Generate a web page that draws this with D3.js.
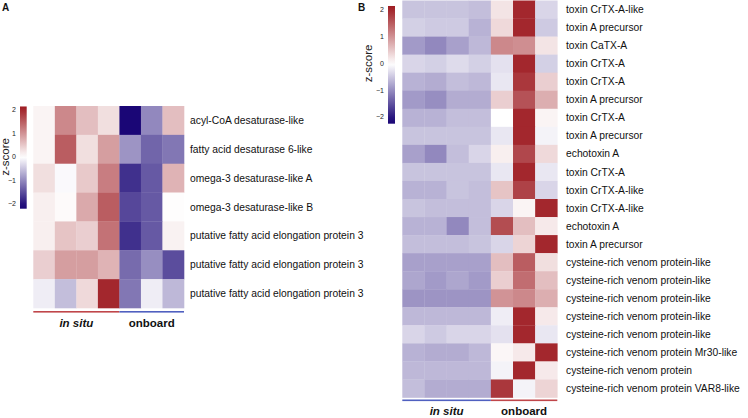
<!DOCTYPE html>
<html><head><meta charset="utf-8">
<script src="https://cdn.jsdelivr.net/npm/d3@7"></script>
<style>body{margin:0;background:#fff}svg{display:block;font-family:"Liberation Sans",Arial,sans-serif}</style>
</head><body><svg id="c" width="748" height="418"></svg>
<script>
// ---------- DATA ----------
const colsA = ["s1","s2","s3","s4","o1","o2","o3"];
const groupsA = [{name:"in situ", cols:["s1","s2","s3","s4"], italic:true, color:"#c0464a"},
                 {name:"onboard", cols:["o1","o2","o3"], italic:false, color:"#5060c0"}];
const rowsA = ["acyl-CoA desaturase-like","fatty acid desaturase 6-like","omega-3 desaturase-like A",
  "omega-3 desaturase-like B","putative fatty acid elongation protein 3",
  "putative fatty acid elongation protein 3","putative fatty acid elongation protein 3"];
const valuesA = [
  [0.1, 1.1, 0.6, 0.3, -2.1, -1.0, 0.6],
  [0.1, 1.5, 0.3, 0.9, -0.9, -1.3, -1.15],
  [0.3, -0.05, 0.5, 1.2, -1.75, -1.4, 0.7],
  [0.15, 0.05, 0.8, 1.5, -1.55, -1.4, 0.02],
  [0.15, 0.55, 0.45, 1.3, -1.75, -1.4, 0.12],
  [0.45, 0.9, 0.9, 0.7, -1.25, -0.95, -1.5],
  [-0.15, -0.55, 0.35, 2.0, -1.15, -0.15, -0.6]
];
const colsB = ["s1","s2","s3","s4","o1","o2","o3"];
const groupsB = [{name:"in situ", cols:["s1","s2","s3","s4"], italic:true, color:"#5060c0"},
                 {name:"onboard", cols:["o1","o2","o3"], italic:false, color:"#c0464a"}];
const rowsB = ["toxin CrTX-A-like","toxin A precursor","toxin CaTX-A","toxin CrTX-A","toxin CrTX-A",
  "toxin A precursor","toxin CrTX-A","toxin A precursor","echotoxin A","toxin CrTX-A",
  "toxin CrTX-A-like","toxin CrTX-A-like","echotoxin A","toxin A precursor",
  "cysteine-rich venom protein-like","cysteine-rich venom protein-like","cysteine-rich venom protein-like",
  "cysteine-rich venom protein-like","cysteine-rich venom protein-like","cysteine-rich venom protein Mr30-like",
  "cysteine-rich venom protein","cysteine-rich venom protein VAR8-like"];
const valuesB = [
  [-0.5,-0.5,-0.5,-0.55, 0.25, 2.0,-0.35],
  [-0.4,-0.45,-0.45,-0.65, 0.35, 2.0,-0.45],
  [-0.85,-1.0,-0.8,-0.6, 1.1, 1.05, 0.25],
  [-0.35,-0.4,-0.3,-0.4,-0.25, 2.0,-0.4],
  [-0.65,-0.7,-0.55,-0.6,-0.2, 1.85, 0.45],
  [-0.85,-0.95,-0.7,-0.7, 0.45, 1.6, 0.75],
  [-0.65,-0.65,-0.55,-0.55, 0.0, 2.0, 0.1],
  [-0.5,-0.5,-0.5,-0.5,-0.2, 2.0,-0.1],
  [-0.8,-1.0,-0.55,-0.35, 0.15, 1.7, 0.35],
  [-0.5,-0.5,-0.5,-0.5,-0.2, 2.0,-0.2],
  [-0.65,-0.65,-0.5,-0.55, 0.55, 1.75,-0.35],
  [-0.5,-0.55,-0.55,-0.55,-0.35, 0.1, 2.0],
  [-0.65,-0.65,-1.0,-0.55, 1.65, 0.6, 0.2],
  [-0.55,-0.55,-0.55,-0.5,-0.35, 0.4, 2.0],
  [-0.8,-0.8,-0.8,-0.8, 0.6, 1.5, 0.3],
  [-0.75,-0.85,-0.75,-0.85, 0.45, 1.35, 0.6],
  [-0.9,-0.9,-0.9,-0.9, 1.0, 1.1, 0.75],
  [-0.6,-0.6,-0.6,-0.6,-0.15, 2.0, 0.2],
  [-0.35,-0.45,-0.35,-0.35,-0.25, 2.0,-0.2],
  [-0.65,-0.7,-0.7,-0.6, 0.08, 0.2, 2.0],
  [-0.6,-0.6,-0.6,-0.6,-0.1, 2.0, 0.2],
  [-0.55,-0.7,-0.7,-0.7, 1.85,-0.1, 0.4]
];
const legendTicks = [2, 1, 0, -1, -2];

// ---------- DRAW ----------
const svg = d3.select("#c");
const color = d3.scaleLinear().domain([-2.1, 0, 2.1]).range(["#1a0676", "#ffffff", "#9e1c22"])
  .interpolate(d3.interpolateRgb).clamp(true);

const defs = svg.append("defs");
const grad = defs.append("linearGradient").attr("id","zg").attr("x1",0).attr("y1",1).attr("x2",0).attr("y2",0);
d3.range(0, 1.0001, 0.05).forEach(t => grad.append("stop").attr("offset", t).attr("stop-color", color(-2.2 + t*4.35)));

function panel(opt) {
  const {cols, rows, values, groups, x0, x1, y0, y1, labelX, lineY, groupY, leg, letter} = opt;
  const g = svg.append("g");
  const x = d3.scaleBand().domain(cols).range([x0, x1]);
  const y = d3.scaleBand().domain(d3.range(rows.length)).range([y0, y1]);
  values.forEach((row, i) => {
    g.selectAll(null).data(row).enter().append("rect")
      .attr("x", (d, j) => x(cols[j])).attr("y", y(i))
      .attr("width", x.bandwidth() + 0.3).attr("height", y.bandwidth() + 0.3)
      .attr("fill", d => color(d));
  });
  g.selectAll(null).data(rows).enter().append("text")
    .attr("x", labelX).attr("y", (d, i) => y(i) + y.bandwidth()/2)
    .attr("dy", "0.35em").attr("font-size", 10.3).attr("fill", "#111").text(d => d);
  groups.forEach(gr => {
    const a = x(gr.cols[0]), b = x(gr.cols[gr.cols.length-1]) + x.bandwidth();
    g.append("rect").attr("x", a).attr("y", lineY).attr("width", b - a).attr("height", 1.6).attr("fill", gr.color);
    g.append("text").attr("x", (a + b)/2).attr("y", groupY).attr("text-anchor", "middle")
      .attr("font-size", 11.5).attr("font-weight", "bold").attr("font-style", gr.italic ? "italic" : "normal")
      .attr("fill", "#111").text(gr.name);
  });
  // legend
  const ly = d3.scaleLinear().domain([2, -2]).range([leg.t2, leg.tm2]);
  g.append("rect").attr("x", leg.x).attr("y", ly(leg.top)).attr("width", leg.w)
    .attr("height", ly(leg.bot) - ly(leg.top)).attr("fill", "url(#zg)");
  g.selectAll(null).data(legendTicks).enter().append("text")
    .attr("x", leg.x - 4).attr("y", d => ly(d)).attr("dy", "0.35em").attr("text-anchor", "end")
    .attr("font-size", 7).attr("fill", "#222").text(d => d < 0 ? "\u2212" + Math.abs(d) : d);
  g.append("text").attr("transform", `translate(${leg.zx},${ly(0)}) rotate(-90)`)
    .attr("text-anchor", "middle").attr("font-size", 11.5).attr("fill", "#222").text("z-score");
  svg.append("text").attr("x", letter.x).attr("y", letter.y).attr("font-size", 10)
    .attr("font-weight", "bold").attr("fill", "#111").text(letter.t);
}

panel({cols: colsA, rows: rowsA, values: valuesA, groups: groupsA,
  x0: 33.3, x1: 184, y0: 106, y1: 308, labelX: 190, lineY: 311, groupY: 327,
  leg: {x: 20, w: 6.7, t2: 110, tm2: 204, top: 2.15, bot: -2.2, zx: 9},
  letter: {x: 2, y: 11, t: "A"}});

panel({cols: colsB, rows: rowsB, values: valuesB, groups: groupsB,
  x0: 402.3, x1: 557.3, y0: 0.5, y1: 397.5, labelX: 566, lineY: 399.5, groupY: 415,
  leg: {x: 388, w: 7, t2: 10, tm2: 117, top: 2.15, bot: -2.25, zx: 372},
  letter: {x: 358, y: 11, t: "B"}});
</script></body></html>
